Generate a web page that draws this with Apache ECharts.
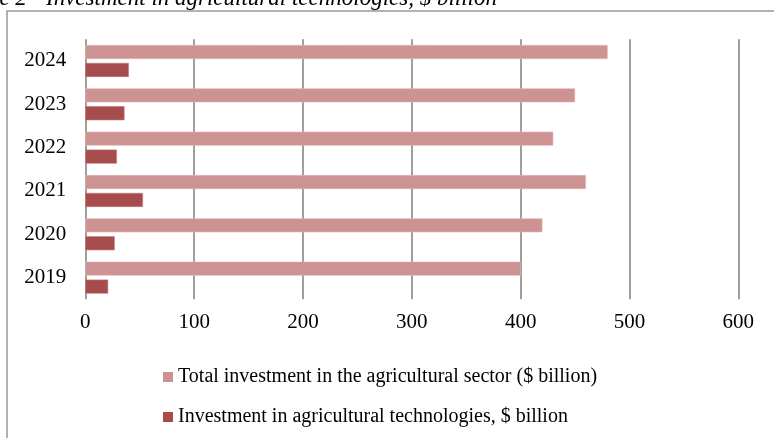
<!DOCTYPE html>
<html>
<head>
<meta charset="utf-8">
<script src="https://cdn.jsdelivr.net/npm/echarts@6/dist/echarts.min.js"></script>
<style>
  html, body { margin: 0; padding: 0; background: #fff; }
  #chart { width: 774px; height: 438px; }
</style>
</head>
<body>
<div id="chart"></div>
<script>
// Years on the category axis (bottom to top)
const years = ['2019', '2020', '2021', '2022', '2023', '2024'];
// Total investment in the agricultural sector, $ billion
const totalInvestment = [400, 420, 460, 430, 450, 480];
// Investment in agricultural technologies, $ billion
const techInvestment = [21, 27, 53, 29, 36, 40];
// Value axis ticks
const xTicks = [0, 100, 200, 300, 400, 500, 600];

const nameTotal = 'Total investment in the agricultural sector ($ billion)';
const nameTech = 'Investment in agricultural technologies, $ billion';
const titleText = 'e 2 - Investment in agricultural technologies, $ billion';

const serif = '"Liberation Serif", "Times New Roman", serif';
const colorTotal = '#cd9292';
const colorTech = '#a64c4c';

const chart = echarts.init(document.getElementById('chart'), null, { renderer: 'canvas' });

chart.setOption({
  animation: false,
  backgroundColor: '#ffffff',
  textStyle: { fontFamily: serif },
  graphic: [
    {
      type: 'rect',
      shape: { x: 7, y: 11, width: 900, height: 600 },
      style: { fill: 'none', stroke: '#999999', lineWidth: 1.5 },
      silent: true
    },
    {
      type: 'text',
      x: 497,
      y: -1,
      style: {
        text: titleText,
        font: 'italic 23px ' + serif,
        fill: '#000',
        align: 'right',
        verticalAlign: 'middle'
      },
      silent: true
    }
  ],
  legend: {
    orient: 'vertical',
    left: 158,
    top: 362,
    itemWidth: 10,
    itemHeight: 10,
    itemGap: 20,
    icon: 'rect',
    data: [nameTotal, nameTech],
    itemStyle: { borderWidth: 0 },
    textStyle: { fontFamily: serif, fontSize: 20, color: '#000' }
  },
  grid: {
    left: 85.3,
    right: 35.7,
    top: 39.3,
    bottom: 138.7,
    containLabel: false
  },
  xAxis: {
    type: 'value',
    min: xTicks[0],
    max: xTicks[xTicks.length - 1],
    interval: 100,
    axisLine: { show: false },
    axisTick: { show: false },
    axisLabel: { fontFamily: serif, fontSize: 21, color: '#000', margin: 13 },
    splitLine: { show: true, lineStyle: { color: '#878787', width: 1.6 } }
  },
  yAxis: {
    type: 'category',
    data: years,
    axisLine: { show: false },
    axisTick: { show: false },
    axisLabel: { fontFamily: serif, fontSize: 21, color: '#000', margin: 19 },
    splitLine: { show: false }
  },
  series: [
    {
      name: nameTotal,
      type: 'bar',
      data: totalInvestment,
      barWidth: 14,
      barGap: '28%',
      itemStyle: { color: colorTotal, borderColor: '#e2b9b9', borderWidth: 0.6 }
    },
    {
      name: nameTech,
      type: 'bar',
      data: techInvestment,
      barWidth: 14,
      barGap: '28%',
      itemStyle: { color: colorTech, borderColor: '#c07a7a', borderWidth: 0.6 }
    }
  ]
});
</script>
</body>
</html>
